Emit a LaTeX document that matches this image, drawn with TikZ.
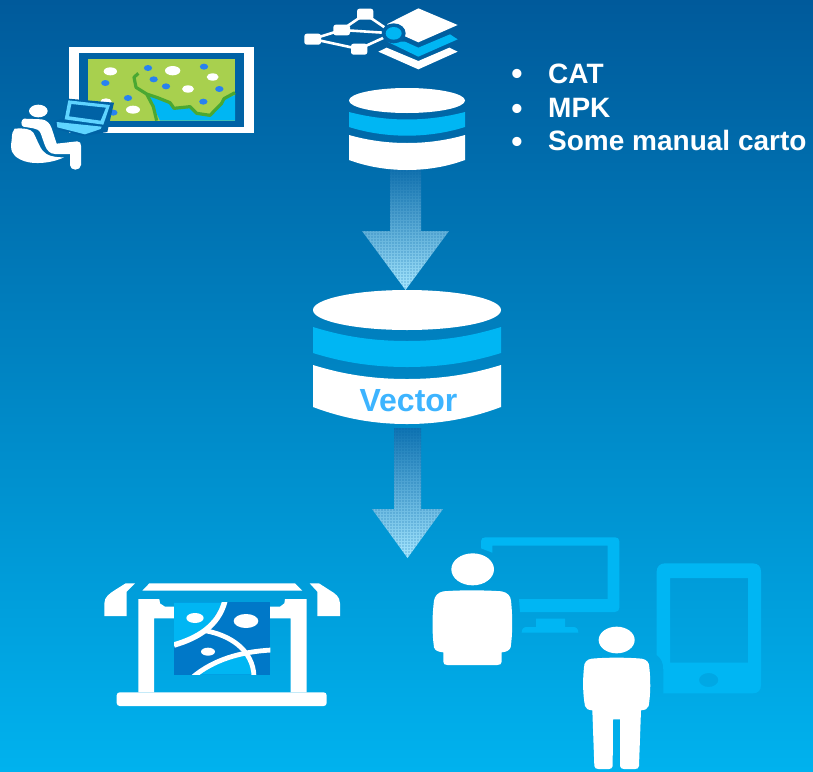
\documentclass[tikz,border=0pt]{standalone}
\usepackage{fontspec}
\setmainfont{Liberation Sans}
\definecolor{bgtop}{RGB}{0,90,155}
\definecolor{bgbot}{RGB}{0,178,238}
\definecolor{halo}{RGB}{0,98,165}
\definecolor{cyanb}{RGB}{0,182,243}
\definecolor{mapg}{RGB}{168,208,78}
\definecolor{coast}{RGB}{74,168,50}
\definecolor{dotb}{RGB}{40,130,240}
\definecolor{lapc}{RGB}{95,212,255}
\definecolor{printd}{RGB}{0,120,200}
\definecolor{vect}{RGB}{61,180,255}
\tikzset{
  x=1pt,y=-1pt,
  wh/.style={fill=white},
  cy/.style={fill=cyanb},
  bullettxt/.style={anchor=base,text=white,inner sep=0pt,font=\bfseries\fontsize{32}{32}\selectfont},
  listtxt/.style={anchor=base west,text=white,inner sep=0pt,font=\bfseries\fontsize{28}{28}\selectfont},
  zoomed/.style={scale=1/3},
}
\begin{document}
\begin{tikzpicture}
\useasboundingbox (0,0) rectangle (813,771);
\shade[top color=bgtop,bottom color=bgbot] (0,0) rectangle (813,771);

% block arrows (with a halftone-like grid)
\begin{scope}
  \clip (390,170) -- (421,170) -- (421,231) -- (449,231) -- (405.5,290) -- (362,231) -- (390,231) -- cycle;
  \shade[top color=bgtop!80!lapc,bottom color=lapc!55!white] (362,170) rectangle (449,290);
  \foreach \gx in {362,365,...,449} \foreach \gy in {170,173,...,290}
    \fill[halo,opacity=.18] (\gx,\gy) rectangle +(1.5,1.5);
\end{scope}
\begin{scope}
  \clip (394,428) -- (421,428) -- (421,509) -- (443,509) -- (407.5,558) -- (372,509) -- (394,509) -- cycle;
  \shade[top color=halo!85!lapc,bottom color=lapc!55!white] (372,428) rectangle (443,558);
  \foreach \gx in {372,375,...,443} \foreach \gy in {428,431,...,558}
    \fill[halo,opacity=.18] (\gx,\gy) rectangle +(1.5,1.5);
\end{scope}

% small cylinder
\fill[wh] (407,100.5) ellipse [x radius=58,y radius=12.5];
\fill[cy] (349,112) .. controls (368,117) and (388,119.5) .. (407,119.5) .. controls (426,119.5) and (446,117) .. (465,112)
  -- (465,127) .. controls (446,133) and (426,135.7) .. (407,135.7) .. controls (388,135.7) and (368,133) .. (349,127) -- cycle;
\fill[wh] (349,135) .. controls (368,140.5) and (388,143) .. (407,143) .. controls (426,143) and (446,140.5) .. (465,135)
  -- (465,160) .. controls (446,167) and (426,170) .. (407,170) .. controls (388,170) and (368,167) .. (349,160) -- cycle;

% big cylinder
\fill[wh] (407,310) ellipse [x radius=94,y radius=20];
\fill[cy] (313,327) .. controls (345,337) and (375,341) .. (407,341) .. controls (439,341) and (469,337) .. (501,327)
  -- (501,353) .. controls (469,363) and (439,367) .. (407,367) .. controls (375,367) and (345,363) .. (313,353) -- cycle;
\fill[wh] (313,365) .. controls (345,375) and (375,379) .. (407,379) .. controls (439,379) and (469,375) .. (501,365)
  -- (501,407) .. controls (469,419) and (439,424) .. (407,424) .. controls (375,424) and (345,419) .. (313,407) -- cycle;
\node[text=vect,font=\bfseries\fontsize{32}{32}\selectfont,anchor=base,inner sep=0pt] (vectorlabel) at (408.5,411) {Vector};

% bullet list
\node[bullettxt] (b1) at (517,84.5) {•};
\node[bullettxt] (b2) at (517,119) {•};
\node[bullettxt] (b3) at (517,152) {•};
\node[listtxt] (t1) at (548,83) {CAT};
\node[listtxt] (t2) at (548,117) {MPK};
\node[listtxt] (t3) at (548,150) {Some manual carto};

% network + layers icon
\begin{scope}[shift={(290,0)},zoomed]
  \draw[white,line width=2.6pt] (68,117) -- (155,90) -- (225,42) -- (310,100) (68,117) -- (207,147) -- (310,100) (155,90) -- (310,100);
  \fill[wh,rounded corners=2.5pt] (201,26) rectangle (250,59);
  \fill[wh,rounded corners=2.5pt] (130,74) rectangle (180,106);
  \fill[wh,rounded corners=2.5pt] (43,101) rectangle (93,134);
  \fill[wh,rounded corners=2.5pt] (183,131) rectangle (232,164);
  \fill[wh] (385,25) -- (503,75) -- (385,127) -- (292,85) -- (292,72) -- cycle;
  \fill[cy] (292,125) -- (345,125) -- (385,143) -- (480,103) -- (503,118) -- (385,170) -- cycle;
  \fill[wh] (265,155) -- (290,143) -- (385,183) -- (478,143) -- (503,155) -- (385,208) -- cycle;
  \fill[halo] (311,100) ellipse [x radius=36,y radius=30];
  \fill[cy] (311,100) ellipse [x radius=24,y radius=19];
\end{scope}

% map + user icon
\begin{scope}[zoomed]
  \fill[wh] (207,140) rectangle (763,400);
  \fill[halo] (237,158) rectangle (733,382);
  \fill[mapg] (265,177) rectangle (705,362);
  \fill[cyanb] (440,280) -- (470,292) -- (510,308) -- (522,328) -- (570,322) -- (590,342) -- (630,348) -- (665,312) -- (672,298) -- (705,285) -- (705,362) -- (480,362) -- (460,320) -- cycle;
  \draw[coast,line width=3.2pt,line join=round] (415,220) -- (402,232) -- (408,262) -- (440,282) -- (470,292) -- (510,308) -- (522,325) -- (570,320) -- (590,340) -- (630,346) -- (665,310) -- (672,296) -- (705,278);
  \draw[coast,line width=3.2pt,line join=round] (440,282) -- (460,320) -- (470,362);
  \foreach \cx/\cy/\rx/\ry in {331/214/20/12,518/212/23/14,638/231/18/11,564/267/18/11,399/329/21/12,318/305/17/10}
    \fill[wh] (\cx,\cy) ellipse [x radius=\rx,y radius=\ry];
  \foreach \cx/\cy in {444/204,316/249,461/238,498/259,612/200,658/267,384/294,610/305,340/338}
    \fill[dotb] (\cx,\cy) ellipse [x radius=12.5,y radius=9];
  % laptop halo
  \fill[halo] (205,296) -- (342,308) -- (322,396) -- (250,408) -- (160,385) -- (165,362) -- (190,355) -- cycle;
  \fill[lapc,even odd rule] (205,301) -- (330,315) -- (310,374) -- (194,358) -- cycle
     (214,312) -- (318,323) -- (302,362) -- (207,349) -- cycle;
  \fill[lapc] (170,366) -- (305,380) -- (302,387) -- (255,403) -- (172,382) -- cycle;
  % person
  \fill[wh] (115,333) ellipse [x radius=28,y radius=19];
  \fill[wh] (72,356) -- (125,358) .. controls (140,360) and (150,370) .. (155,385) -- (170,431) -- (232,424) .. controls (240,424) and (243,430) .. (243,438) -- (243,495) .. controls (243,503) and (235,509) .. (226,509) .. controls (217,509) and (210,503) .. (210,495) -- (210,462) -- (165,462) .. controls (150,462) and (140,450) .. (135,437) -- (122,400) .. controls (118,390) and (110,387) .. (100,385) -- (70,380) .. controls (62,378) and (62,358) .. (72,356) -- cycle;
  \fill[wh] (44,386) .. controls (70,384) and (92,386) .. (100,398) .. controls (112,420) and (118,440) .. (128,452) .. controls (140,468) and (165,472) .. (192,472) .. controls (150,492) and (90,495) .. (60,478) .. controls (35,465) and (30,450) .. (35,420) .. controls (36,400) and (38,392) .. (44,386) -- cycle;
\end{scope}

% printer icon
\begin{scope}[shift={(90,570)},zoomed]
  \fill[wh] (157,62) -- (178,40) -- (615,40) -- (637,62) -- cycle;
  \fill[wh] (107,40) -- (135,40) -- (110,65) -- (110,138) -- (43,138) -- (43,100) .. controls (43,80) and (60,70) .. (75,60) -- cycle;
  \fill[wh] (687,40) -- (659,40) -- (682,65) -- (682,138) -- (750,138) -- (750,100) .. controls (750,80) and (735,70) .. (718,60) -- cycle;
  \fill[wh,rounded corners=3pt] (80,408) -- (80,367) -- (710,367) -- (710,408) -- cycle;
  \fill[wh] (145,367) -- (145,87) -- (208,87) -- (210,100) -- (225,110) -- (260,110) -- (260,145) -- (192,145) -- (192,367) -- cycle;
  \fill[wh] (650,367) -- (650,87) -- (585,87) -- (583,100) -- (570,110) -- (530,110) -- (530,145) -- (602,145) -- (602,367) -- cycle;
  \begin{scope}
    \clip (252,97) rectangle (541,314);
    \fill[printd] (252,97) rectangle (541,314);
    \fill[cy] (252,97) -- (400,97) -- (345,185) -- (252,225) -- cycle;
    \fill[cy] (315,314) .. controls (370,275) and (420,262) .. (465,255) .. controls (485,275) and (490,295) .. (492,314) -- cycle;
    \draw[white,line width=5.5pt] (252,225) .. controls (320,205) and (385,170) .. (405,92);
    \draw[white,line width=4.8pt] (345,182) .. controls (420,195) and (490,240) .. (492,320);
    \draw[white,line width=4.8pt] (310,320) .. controls (370,270) and (450,245) .. (545,240);
    \fill[wh] (315,144) ellipse [x radius=26,y radius=15];
    \fill[wh] (468,153) ellipse [x radius=37,y radius=21];
    \fill[wh] (354,245) ellipse [x radius=21,y radius=12];
  \end{scope}
\end{scope}

% users with monitor and tablet
\begin{scope}[shift={(420,530)},zoomed]
  \fill[cy] (183,55) -- (183,34) .. controls (183,26) and (188,22) .. (196,22) -- (585,22) .. controls (593,22) and (598,26) .. (598,34) -- (598,233) .. controls (598,241) and (593,246) .. (585,246) -- (300,246) -- (297,207) -- (563,207) -- (563,47) -- (217,47) -- (217,68) -- cycle;
  \fill[cy] (348,266) -- (435,266) -- (435,291) -- (460,291) .. controls (470,291) and (475,298) .. (475,308) -- (305,308) .. controls (305,298) and (310,291) .. (320,291) -- (348,291) -- cycle;
  \fill[cy,even odd rule] (730,490) -- (998,490) .. controls (1015,490) and (1023,480) .. (1023,465) -- (1023,125) .. controls (1023,110) and (1015,100) .. (998,100) -- (735,100) .. controls (720,100) and (710,110) .. (710,125) -- (710,375) .. controls (725,385) and (730,400) .. (730,420) -- cycle
     (750,144) rectangle (984,398)
     (866,450) ellipse [x radius=29,y radius=21];
  \fill[wh] (158,118) ellipse [x radius=64,y radius=48];
  \fill[wh] (70,184) .. controls (120,180) and (190,180) .. (245,184) .. controls (262,187) and (272,198) .. (273,212) .. controls (278,260) and (278,310) .. (272,352) .. controls (268,362) and (258,366) .. (245,367) -- (245,395) .. controls (245,402) and (240,405) .. (232,405) -- (82,405) .. controls (74,405) and (70,402) .. (70,395) -- (70,367) .. controls (55,366) and (45,362) .. (42,352) .. controls (36,310) and (36,260) .. (42,212) .. controls (44,198) and (54,187) .. (70,184) -- cycle;
  \fill[wh] (590,330) ellipse [x radius=54,y radius=40];
  \fill[wh] (515,386) .. controls (560,382) and (620,382) .. (665,386) .. controls (680,388) and (688,398) .. (688,412) .. controls (692,450) and (692,490) .. (686,528) .. controls (683,537) and (675,540) .. (663,541) -- (657,708) .. controls (656,714) and (652,717) .. (646,717) -- (612,717) .. controls (605,717) and (601,714) .. (600,708) -- (600,568) -- (579,568) -- (578,708) .. controls (577,714) and (573,717) .. (567,717) -- (535,717) .. controls (528,717) and (524,714) .. (523,708) -- (517,541) .. controls (505,540) and (497,537) .. (495,528) .. controls (488,490) and (488,450) .. (492,412) .. controls (492,398) and (500,388) .. (515,386) -- cycle;
\end{scope}
\end{tikzpicture}
\end{document}
